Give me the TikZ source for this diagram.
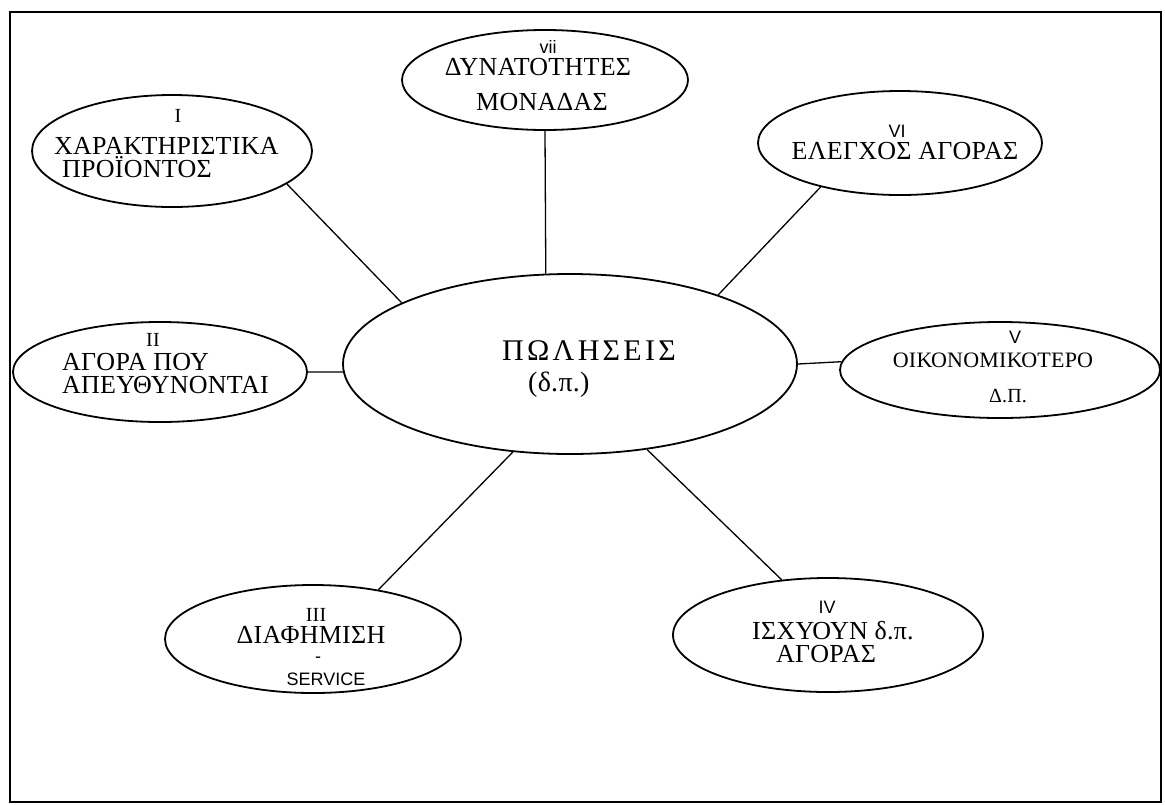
\documentclass[tikz,border=0pt]{standalone}
\usepackage{fontspec}
\setmainfont{Liberation Serif}[LetterSpace=1]
\setsansfont{Liberation Sans}
\usetikzlibrary{shapes.geometric}

\begin{document}
\begin{tikzpicture}[x=1pt,y=-1pt,
        bubble/.style={draw, ellipse, line width=1.8pt, inner sep=0pt},
        spoke/.style={line width=1.3pt},
        grk/.style={inner sep=0pt, font=\fontsize{26}{26}\selectfont},
        num/.style={inner sep=0pt, font=\fontsize{20}{20}\selectfont},
        snum/.style={inner sep=0pt, font=\sffamily\fontsize{18}{18}\selectfont}]
    \useasboundingbox (0,0) rectangle (1165,804);
    \draw[line width=2.5pt] (10,12) rectangle (1161,802);

    % ellipses
    \node[bubble, minimum width=454pt, minimum height=180pt] (poliseis) at (570,364) {};
    \node[bubble, minimum width=286pt, minimum height=100pt] (monada)   at (545,80)  {};
    \node[bubble, minimum width=280pt, minimum height=112pt] (proion)   at (172,151) {};
    \node[bubble, minimum width=284pt, minimum height=104pt] (elegxos)  at (900,143) {};
    \node[bubble, minimum width=294pt, minimum height=100pt] (agora)    at (160,372) {};
    \node[bubble, minimum width=320pt, minimum height=96pt]  (oikon)    at (1000,370) {};
    \node[bubble, minimum width=296pt, minimum height=108pt] (diafim)   at (313,639) {};
    \node[bubble, minimum width=310pt, minimum height=114pt] (isxyoun)  at (828,635) {};

    % spokes
    \draw[spoke] (monada.south) -- (poliseis.105);
    \draw[spoke] (proion.-16)   -- (poliseis.160);
    \draw[spoke] (elegxos.-151) -- (poliseis.25);
    \draw[spoke] (agora.east)   -- (poliseis.182);
    \draw[spoke] (oikon.177)    -- (poliseis.0);
    \draw[spoke] (diafim.37)    -- (poliseis.-123);
    \draw[spoke] (isxyoun.130)  -- (poliseis.-48);

    % centre
    \node[grk, anchor=base west, font=\addfontfeature{LetterSpace=11}\fontsize{30}{30}\selectfont]
        (poliseis-a) at (502,360) {ΠΩΛΗΣΕΙΣ};
    \node[grk, anchor=base west, font=\fontsize{28}{28}\selectfont] (poliseis-b) at (528,391) {(δ.π.)};

    % vii
    \node[snum, anchor=base] (monada-n) at (548,53)  {vii};
    \node[grk, anchor=base]  (monada-a) at (538,75)  {ΔΥΝΑΤΟΤΗΤΕΣ};
    \node[grk, anchor=base]  (monada-b) at (542,110) {ΜΟΝΑΔΑΣ};

    % I
    \node[num, anchor=base]      (proion-n) at (178,122) {I};
    \node[grk, anchor=base west] (proion-a) at (54,154)  {ΧΑΡΑΚΤΗΡΙΣΤΙΚΑ};
    \node[grk, anchor=base west] (proion-b) at (62,177)  {ΠΡΟΪΟΝΤΟΣ};

    % VI
    \node[snum, anchor=base] (elegxos-n) at (897,137) {VI};
    \node[grk, anchor=base]  (elegxos-a) at (905,159) {ΕΛΕΓΧΟΣ ΑΓΟΡΑΣ};

    % II
    \node[num, anchor=base]      (agora-n) at (153,346) {II};
    \node[grk, anchor=base west] (agora-a) at (62,370)  {ΑΓΟΡΑ ΠΟΥ};
    \node[grk, anchor=base west] (agora-b) at (62,393)  {ΑΠΕΥΘΥΝΟΝΤΑΙ};

    % V
    \node[snum, anchor=base] (oikon-n) at (1015,343) {V};
    \node[grk, anchor=base, font=\fontsize{22}{22}\selectfont] (oikon-a) at (993,367) {ΟΙΚΟΝΟΜΙΚΟΤΕΡΟ};
    \node[num, anchor=base]  (oikon-b) at (1008,402) {Δ.Π.};

    % III
    \node[num, anchor=base]  (diafim-n) at (316,621) {III};
    \node[grk, anchor=base]  (diafim-a) at (311,643) {ΔΙΑΦΗΜΙΣΗ};
    \node[snum, anchor=base] (diafim-d) at (318,662) {-};
    \node[snum, anchor=base] (diafim-b) at (326,685) {SERVICE};

    % IV
    \node[snum, anchor=base] (isxyoun-n) at (827,613) {IV};
    \node[grk, anchor=base]  (isxyoun-a) at (833,639) {ΙΣΧΥΟΥΝ δ.π.};
    \node[grk, anchor=base]  (isxyoun-b) at (826,662) {ΑΓΟΡΑΣ};
\end{tikzpicture}
\end{document}
